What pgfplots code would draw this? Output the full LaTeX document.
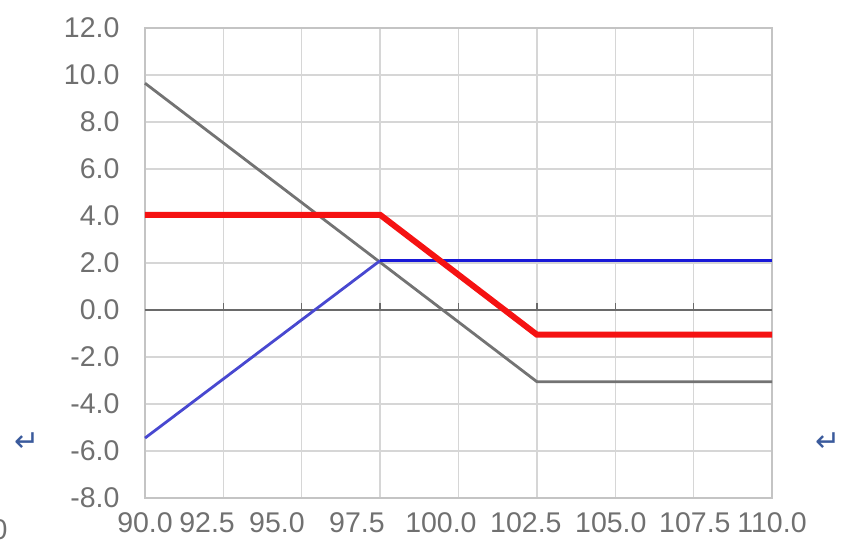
\documentclass[border=0pt]{standalone}
\usepackage{pgfplots}
\pgfplotsset{compat=1.18}
\usepackage{fontspec}
\setmainfont{Liberation Sans}
\newfontfamily\symfont{DejaVu Sans}
\definecolor{lbl}{HTML}{707070}
\definecolor{gridc}{HTML}{D6D6D6}
\definecolor{framec}{HTML}{C4C4C4}
\definecolor{grayline}{HTML}{737373}
\definecolor{zeroc}{HTML}{6A6A6A}
\definecolor{redline}{HTML}{F51212}
\definecolor{bluedark}{HTML}{1818D8}
\definecolor{bluelight}{HTML}{4848D0}
\definecolor{arrowc}{HTML}{3A5A9C}
\begin{document}
\begin{tikzpicture}[x=1pt,y=1pt]
\useasboundingbox (-145,-49) rectangle (699,498);
\begin{axis}[
  at={(0,0)}, anchor=south west,
  scale only axis, width=627pt, height=470pt,
  xmin=90, xmax=110, ymin=-8, ymax=12,
  xtick={90,92.5,95,97.5,100,102.5,105,107.5,110},
  xticklabels={},
  ytick={-8,-6,-4,-2,0,2,4,6,8,10,12},
  yticklabel={\pgfmathprintnumber[fixed,fixed zerofill,precision=1]{\tick}},
  /pgf/number format/assume math mode=true,
  grid=major,
  major grid style={color=gridc, line width=1.5pt},
  axis line style={color=framec, line width=2pt},
  major tick length=0pt,
  tick label style={font=\fontsize{28.5}{28.5}\selectfont, color=lbl},
  yticklabel style={xshift=-22pt},
  extra x ticks={90,91.98,94.21,96.76,99.44,102.15,104.86,107.54,110},
  extra x tick labels={90.0,92.5,95.0,97.5,100.0,102.5,105.0,107.5,110.0},
  extra x tick style={grid=none, major tick length=0pt, xticklabel style={yshift=-11pt}},
  clip=false,
]
\addplot[color=zeroc, line width=2.5pt, mark=none] coordinates {(90,0) (110,0)};
\addplot[only marks, mark=|, color=zeroc, mark size=3.5pt, mark options={line width=1.5pt, yshift=3.5pt}]
  coordinates {(92.5,0) (95,0) (97.5,0) (100,0) (102.5,0) (105,0) (107.5,0)};
\addplot[color=grayline, line width=2.8pt, mark=none] coordinates {(90,9.65) (102.5,-3.05) (110,-3.05)};
\addplot[color=bluelight, line width=2.8pt, mark=none] coordinates {(90,-5.45) (97.5,2.1)};
\addplot[color=bluedark, line width=3.5pt, mark=none] coordinates {(97.5,2.1) (110,2.1)};
\addplot[color=redline, line width=6pt, mark=none] coordinates {(90,4.05) (97.5,4.05) (102.5,-1.05) (110,-1.05)};
\node[font=\symfont\fontsize{30}{30}\selectfont, color=arrowc] at (rel axis cs:-0.188,0.119) {↵};
\node[font=\symfont\fontsize{30}{30}\selectfont, color=arrowc] at (rel axis cs:1.089,0.119) {↵};
\node[font=\fontsize{28.5}{28.5}\selectfont, color=lbl] at (rel axis cs:-0.232,-0.068) {0};
\end{axis}
\end{tikzpicture}
\end{document}
